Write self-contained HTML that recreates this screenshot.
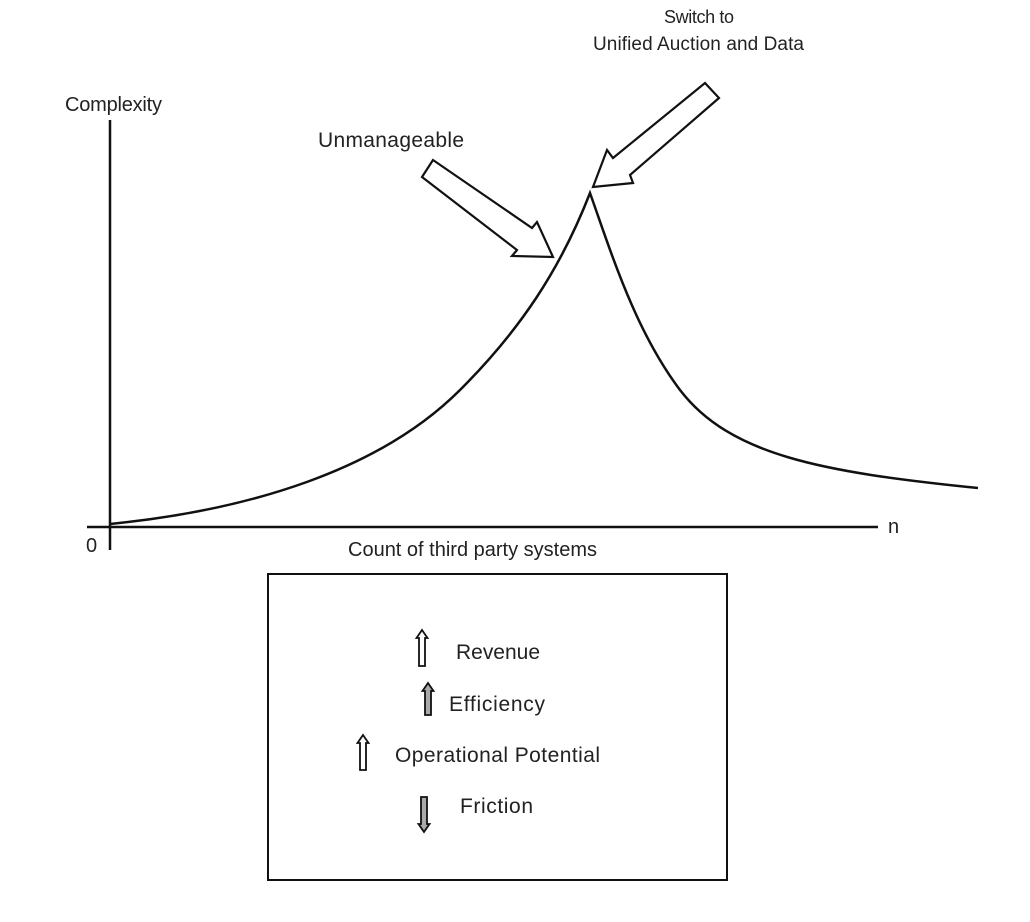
<!DOCTYPE html>
<html><head><style>
body{margin:0;background:#fff;}
svg{display:block;}
text{font-family:"Liberation Sans",sans-serif;fill:#222;font-size:20px;}
</style></head><body>
<svg width="1030" height="922" viewBox="0 0 1030 922" xmlns="http://www.w3.org/2000/svg">
<g stroke="#111" stroke-width="2.5" fill="none">
<line x1="110" y1="120" x2="110" y2="550"/>
<line x1="87" y1="527" x2="878" y2="527"/>
<path d="M110,524 C250,510 380,470 460,390 C520,330 560,270 590,193 C612,255 635,330 680,390 C730,455 820,472 978,488"/>
<rect x="268" y="574" width="459" height="306" stroke-width="2"/>
<polygon points="705,83 719,98 630,175 633,183 593,187 607,150 613,158" stroke-width="2.2"/>
<polygon points="433,160 422,177 517,250 512,256 553,257 537,222 532,228" stroke-width="2.2"/>
</g>
<g stroke="#111" stroke-width="1.8" fill="#fff">
<polygon points="422,630 427.5,638 425,638 425,666 419,666 419,638 416.5,638"/>
<polygon points="428,683 433.5,691 431,691 431,715 425,715 425,691 422.5,691" fill="#aaa"/>
<polygon points="363,735 368.5,743 366,743 366,770 360,770 360,743 357.5,743"/>
<polygon points="424,832 429.5,824 427,824 427,797 421,797 421,824 418.5,824" fill="#aaa"/>
</g>
<text x="65" y="111" textLength="97">Complexity</text>
<text x="318" y="147" textLength="146" style="font-size:21px">Unmanageable</text>
<text x="664" y="23" textLength="70" style="font-size:18px">Switch to</text>
<text x="593" y="50" textLength="211" style="font-size:19px">Unified Auction and Data</text>
<text x="86" y="552">0</text>
<text x="888" y="533">n</text>
<text x="348" y="556" textLength="249">Count of third party systems</text>
<text x="456" y="659" textLength="84" style="font-size:21px">Revenue</text>
<text x="449" y="711" textLength="96" style="font-size:21px">Efficiency</text>
<text x="395" y="762" textLength="205" style="font-size:21px">Operational Potential</text>
<text x="460" y="813" textLength="73" style="font-size:21px">Friction</text>
</svg>
</body></html>
